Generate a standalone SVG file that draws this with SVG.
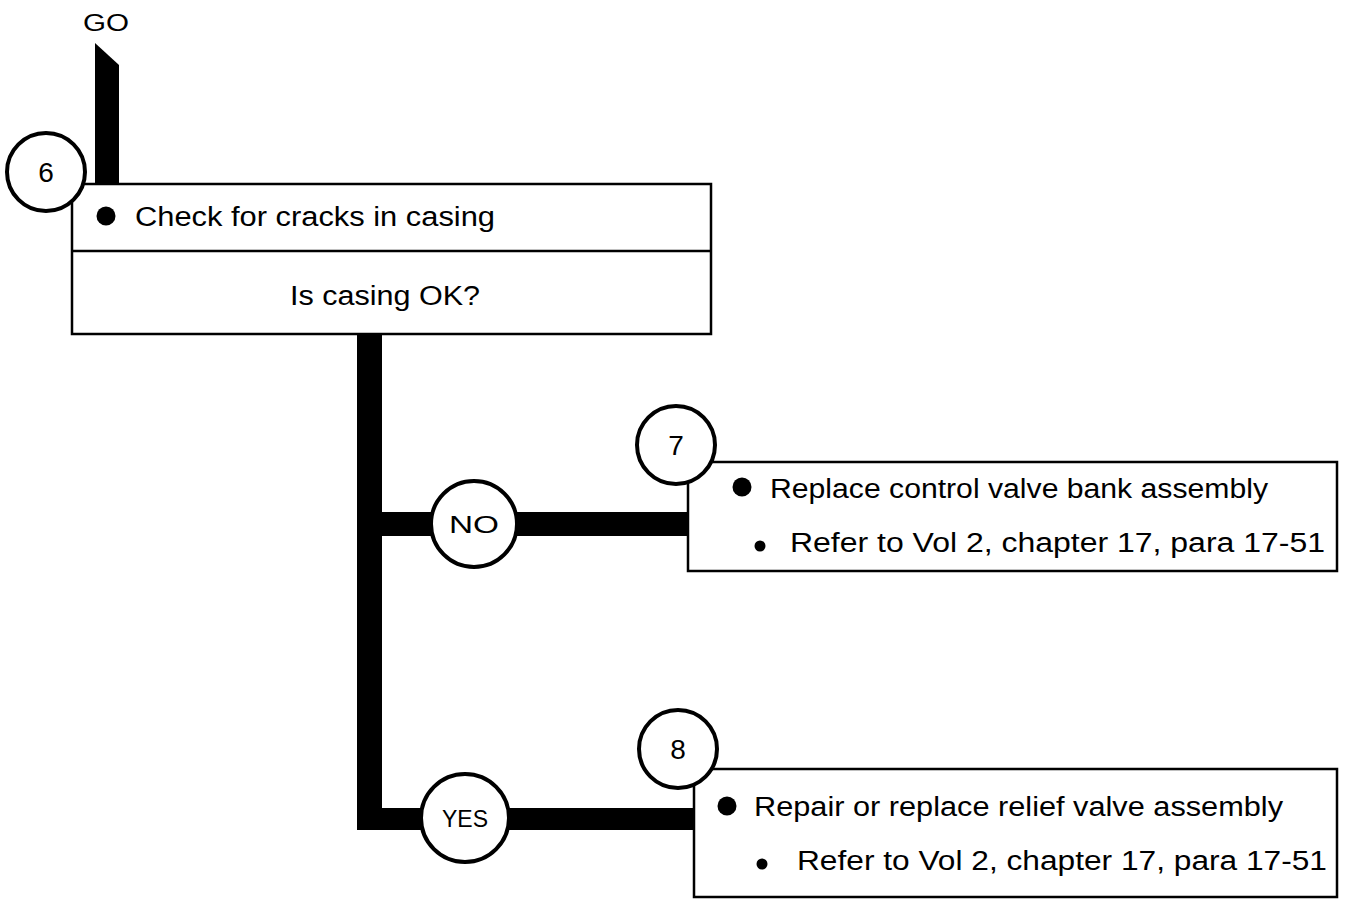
<svg xmlns="http://www.w3.org/2000/svg" width="1351" height="901" viewBox="0 0 1351 901">
<style>
.box{fill:#fff;stroke:#000;stroke-width:2.5}
.circ{fill:#fff;stroke:#000;stroke-width:4}
.bar{fill:#000}
text{font-family:"Liberation Sans","DejaVu Sans",sans-serif;fill:#000}
.t{font-size:27px}
.n{font-size:28px;text-anchor:middle}
.lbl{font-size:24px;text-anchor:middle}
.go{font-size:23px}
</style>
<rect width="1351" height="901" fill="#fff"/>
<g id="connectors">
<path class="bar" d="M95,43 L119,65 L119,186 L95,186 Z"/>
<rect class="bar" x="357" y="334" width="25" height="496"/>
<rect class="bar" x="357" y="512" width="333" height="24"/>
<rect class="bar" x="357" y="808" width="339" height="22"/>
</g>
<g id="go">
<text class="go" x="83" y="31" textLength="46" lengthAdjust="spacingAndGlyphs">GO</text>
</g>
<g id="node6">
<rect class="box" x="72" y="184" width="639" height="150"/>
<line x1="72" y1="251" x2="711" y2="251" stroke="#000" stroke-width="2.5"/>
<circle cx="106" cy="216" r="9.5"/>
<text class="t" x="135" y="226" textLength="360" lengthAdjust="spacingAndGlyphs">Check for cracks in casing</text>
<text class="t" x="290" y="305" textLength="190" lengthAdjust="spacingAndGlyphs">Is casing OK?</text>
<circle class="circ" cx="46" cy="172" r="39"/>
<text class="n" x="46" y="182">6</text>
</g>
<g id="no">
<circle class="circ" cx="474" cy="524" r="43"/>
<text class="lbl" x="474" y="533" textLength="50" lengthAdjust="spacingAndGlyphs">NO</text>
</g>
<g id="yes">
<circle class="circ" cx="465" cy="818" r="44"/>
<text class="lbl" x="465" y="827" textLength="46" lengthAdjust="spacingAndGlyphs">YES</text>
</g>
<g id="node7">
<rect class="box" x="688" y="462" width="649" height="109"/>
<circle cx="742" cy="487" r="9.5"/>
<text class="t" x="770" y="498" textLength="498" lengthAdjust="spacingAndGlyphs">Replace control valve bank assembly</text>
<circle cx="760" cy="546" r="5.5"/>
<text class="t" x="790" y="552" textLength="535" lengthAdjust="spacingAndGlyphs">Refer to Vol 2, chapter 17, para 17-51</text>
<circle class="circ" cx="676" cy="445" r="39"/>
<text class="n" x="676" y="455">7</text>
</g>
<g id="node8">
<rect class="box" x="694" y="769" width="643" height="128"/>
<circle cx="727" cy="806" r="9.5"/>
<text class="t" x="754" y="816" textLength="529" lengthAdjust="spacingAndGlyphs">Repair or replace relief valve assembly</text>
<circle cx="762" cy="864" r="5.5"/>
<text class="t" x="797" y="870" textLength="530" lengthAdjust="spacingAndGlyphs">Refer to Vol 2, chapter 17, para 17-51</text>
<circle class="circ" cx="678" cy="749" r="39"/>
<text class="n" x="678" y="759">8</text>
</g>
</svg>
